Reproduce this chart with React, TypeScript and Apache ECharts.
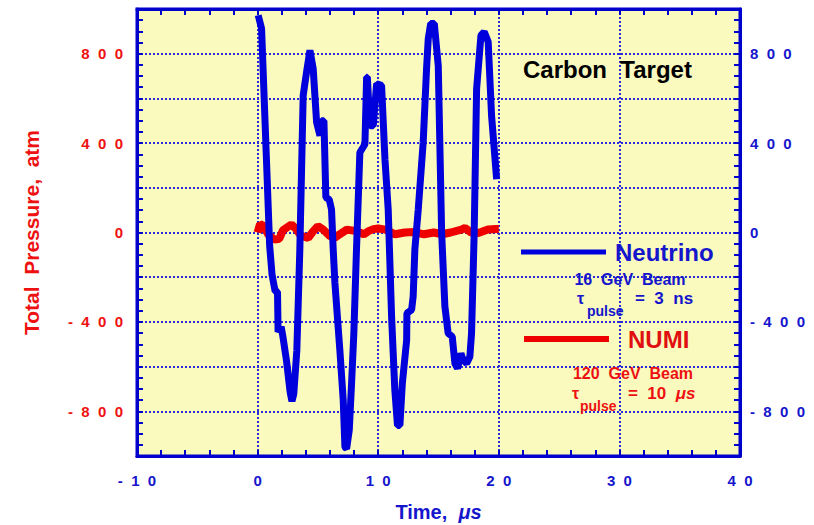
import React, { useEffect, useRef } from 'react';
import * as echarts from 'echarts';

// ---- data ----
const neutrinoTime = [0.05, 0.33, 1.0, 1.2, 1.45, 1.65, 1.7, 1.95, 2.1, 2.4, 2.7, 2.85, 3.0, 3.25, 3.5, 3.78, 4.06, 4.34, 4.61, 4.89, 5.17, 5.3, 5.5, 5.66, 5.94, 6.13, 6.27, 6.41, 6.82, 7.1, 7.24, 7.38, 7.6, 7.79, 7.98, 8.2, 8.48, 8.9, 9.04, 9.1, 9.31, 9.59, 9.87, 10.28, 10.56, 10.83, 11.11, 11.38, 11.6, 11.8, 12.0, 12.36, 12.38, 12.77, 12.9, 13.04, 13.32, 13.73, 14.01, 14.15, 14.35, 14.65, 14.98, 15.26, 15.53, 15.8, 16.14, 16.36, 16.58, 16.86, 17.05, 17.33, 17.6, 17.74, 17.96, 18.16, 18.52, 18.79, 19.12, 19.4, 19.82];
const neutrinoPressure = [972, 912, -60, -190, -262, -265, -445, -421, -466, -575, -715, -755, -722, -530, -80, 613, 718, 815, 733, 494, 433, 500, 500, 157, 148, 103, -76, -226, -526, -751, -960, -967, -885, -676, -451, -76, 358, 395, 695, 695, 478, 478, 665, 658, 328, 103, -376, -706, -863, -863, -676, -481, -361, -346, -286, -76, 103, 403, 733, 867, 935, 935, 747, 0, -331, -451, -466, -586, -608, -541, -571, -586, -556, -451, 0, 643, 882, 898, 853, 523, 238];
const numiTime = [0, 0.2, 0.5, 0.9, 1.4, 1.8, 2.1, 2.8, 3.2, 3.6, 4.2, 4.6, 5.0, 5.4, 6.0, 6.4, 6.8, 7.4, 8.2, 8.8, 9.2, 9.6, 10.0, 10.6, 11.4, 12.2, 13.0, 13.8, 14.6, 15.3, 16.0, 16.9, 17.2, 17.7, 18.3, 19.1, 19.8, 20.0];
const numiPressure = [0, 38, 30, -10, -32, -28, 10, 36, 15, -15, -24, 5, 28, 15, -16, -24, -8, 13, 6, -8, 6, 15, 18, 13, -8, 0, 2, -8, 0, -8, 0, 13, 20, 0, -2, 13, 16, 16];
const yLabelValues = [-800, -400, 0, 400, 800];
const seriesNames = ['Neutrino', 'NUMI'];

const FONT = "'Liberation Sans', Arial, Helvetica, sans-serif";
const BLUE = '#0000dd';
const TEXT_BLUE = '#1515cc';
const RED = '#ee0000';
const TEXT_RED = '#ee1111';
const GRID_BLUE = '#2a2ad8';

function spaced(v: number): string {
  return String(v).split('').join('  ');
}

export default function App() {
  const ref = useRef<HTMLDivElement>(null);
  useEffect(() => {
    if (!ref.current) return;
    const chart = echarts.init(ref.current, null, { renderer: 'svg' });
    const zip = (xs: number[], ys: number[]) => xs.map((x, i) => [x, ys[i]]);

    const yLabelFmt = (v: number) => (yLabelValues.includes(v) ? spaced(v) : '');

    const commonX = {
      type: 'value',
      min: -10,
      max: 40,
      interval: 10,
      axisLine: { show: true, onZero: false, lineStyle: { color: '#0000cc', width: 3 } },
      axisTick: { show: true, inside: true, length: 6, lineStyle: { color: '#0000cc', width: 2 } },
      minorTick: { show: true, splitNumber: 5, length: 6, lineStyle: { color: '#0000cc', width: 2 } },
    };
    const commonY = {
      type: 'value',
      min: -1000,
      max: 1000,
      interval: 200,
      axisLine: { show: true, onZero: false, lineStyle: { color: '#0000cc', width: 3 } },
      axisTick: { show: true, inside: true, length: 6, lineStyle: { color: '#0000cc', width: 2 } },
      minorTick: { show: true, splitNumber: 4, length: 6, lineStyle: { color: '#0000cc', width: 2 } },
    };

    const option: any = {
      animation: false,
      backgroundColor: '#ffffff',
      textStyle: { fontFamily: FONT },
      grid: {
        left: 137,
        right: 74,
        top: 9,
        bottom: 69,
        show: true,
        backgroundColor: '#fafabf',
        borderColor: '#0000cc',
        borderWidth: 3,
        containLabel: false,
        outerBoundsMode: 'none',
      },
      legend: [
        {
          data: [seriesNames[0]],
          left: 516,
          top: 235,
          icon: 'rect',
          itemWidth: 85,
          itemHeight: 5,
          textStyle: { fontSize: 24, fontWeight: 'bold', color: TEXT_BLUE, fontFamily: FONT, padding: [0, 0, 0, 4] },
          selectedMode: false,
        },
        {
          data: [seriesNames[1]],
          left: 519,
          top: 322,
          icon: 'rect',
          itemWidth: 85,
          itemHeight: 6,
          textStyle: { fontSize: 24, fontWeight: 'bold', color: '#e01010', fontFamily: FONT, padding: [0, 0, 0, 14] },
          selectedMode: false,
        },
      ],
      xAxis: [
        {
          ...commonX,
          position: 'bottom',
          axisLabel: {
            margin: 17,
            color: TEXT_BLUE,
            fontSize: 15,
            fontWeight: 'bold',
            fontFamily: FONT,
            formatter: (v: number) => spaced(v),
          },
          splitLine: { show: true, lineStyle: { color: GRID_BLUE, width: 2, type: [2, 2] } },
          name: '{a|Time,  }{b|μs}',
          nameLocation: 'middle',
          nameGap: 46,
          nameTextStyle: {
            rich: {
              a: { fontSize: 20, fontWeight: 'bold', color: TEXT_BLUE, fontFamily: FONT },
              b: { fontSize: 20, fontWeight: 'bold', fontStyle: 'italic', color: TEXT_BLUE, fontFamily: FONT },
            },
          },
        },
        {
          ...commonX,
          position: 'top',
          axisLabel: { show: false },
          splitLine: { show: false },
        },
      ],
      yAxis: [
        {
          ...commonY,
          position: 'left',
          axisLabel: {
            margin: 14,
            color: TEXT_RED,
            fontSize: 15,
            fontWeight: 'bold',
            fontFamily: FONT,
            formatter: yLabelFmt,
          },
          splitLine: { show: true, lineStyle: { color: GRID_BLUE, width: 2, type: [2, 2] } },
          name: 'Total  Pressure,  atm',
          nameLocation: 'middle',
          nameGap: 95,
          nameTextStyle: { fontSize: 21, fontWeight: 'bold', color: TEXT_RED, fontFamily: FONT },
        },
        {
          ...commonY,
          position: 'right',
          axisLabel: {
            margin: 10,
            color: TEXT_BLUE,
            fontSize: 15,
            fontWeight: 'bold',
            fontFamily: FONT,
            formatter: yLabelFmt,
          },
          splitLine: { show: false },
        },
      ],
      series: [
        {
          name: seriesNames[1],
          type: 'line',
          xAxisIndex: 0,
          yAxisIndex: 0,
          data: zip(numiTime, numiPressure),
          symbol: 'none',
          z: 3,
          lineStyle: { color: RED, width: 8 },
          itemStyle: { color: RED },
        },
        {
          name: seriesNames[0],
          type: 'line',
          xAxisIndex: 0,
          yAxisIndex: 0,
          data: zip(neutrinoTime, neutrinoPressure),
          symbol: 'none',
          z: 4,
          lineStyle: { color: BLUE, width: 7 },
          itemStyle: { color: BLUE },
        },
      ],
      graphic: [
        {
          type: 'text',
          x: 523,
          y: 69,
          z: 10,
          style: { text: 'Carbon  Target', font: `bold 24px ${FONT}`, fill: '#000000', align: 'left', verticalAlign: 'middle' },
        },
        {
          type: 'text',
          x: 630,
          y: 279,
          z: 10,
          style: { text: '16  GeV  Beam', font: `bold 16px ${FONT}`, fill: TEXT_BLUE, align: 'center', verticalAlign: 'middle' },
        },
        {
          type: 'text',
          x: 577,
          y: 298,
          z: 10,
          style: { text: 'τ', font: `bold 16px ${FONT}`, fill: TEXT_BLUE, align: 'left', verticalAlign: 'middle' },
        },
        {
          type: 'text',
          x: 587,
          y: 311,
          z: 10,
          style: { text: 'pulse', font: `bold 14px ${FONT}`, fill: TEXT_BLUE, align: 'left', verticalAlign: 'middle' },
        },
        {
          type: 'text',
          x: 635,
          y: 298,
          z: 10,
          style: { text: '=  3  ns', font: `bold 17px ${FONT}`, fill: TEXT_BLUE, align: 'left', verticalAlign: 'middle' },
        },
        {
          type: 'text',
          x: 633,
          y: 373,
          z: 10,
          style: { text: '120  GeV  Beam', font: `bold 16px ${FONT}`, fill: TEXT_RED, align: 'center', verticalAlign: 'middle' },
        },
        {
          type: 'text',
          x: 572,
          y: 393,
          z: 10,
          style: { text: 'τ', font: `bold 16px ${FONT}`, fill: TEXT_RED, align: 'left', verticalAlign: 'middle' },
        },
        {
          type: 'text',
          x: 580,
          y: 406,
          z: 10,
          style: { text: 'pulse', font: `bold 14px ${FONT}`, fill: TEXT_RED, align: 'left', verticalAlign: 'middle' },
        },
        {
          type: 'text',
          x: 628,
          y: 393,
          z: 10,
          style: {
            text: '{a|=  10  }{b|μs}',
            font: `bold 17px ${FONT}`,
            fill: TEXT_RED,
            align: 'left',
            verticalAlign: 'middle',
            rich: {
              a: { font: `bold 17px ${FONT}`, fill: TEXT_RED },
              b: { font: `italic bold 17px ${FONT}`, fill: TEXT_RED },
            },
          },
        },
      ],
    };
    chart.setOption(option);
    return () => chart.dispose();
  }, []);
  return <div ref={ref} style={{ position: 'fixed', left: 0, top: 0, width: 814, height: 525 }} />;
}
